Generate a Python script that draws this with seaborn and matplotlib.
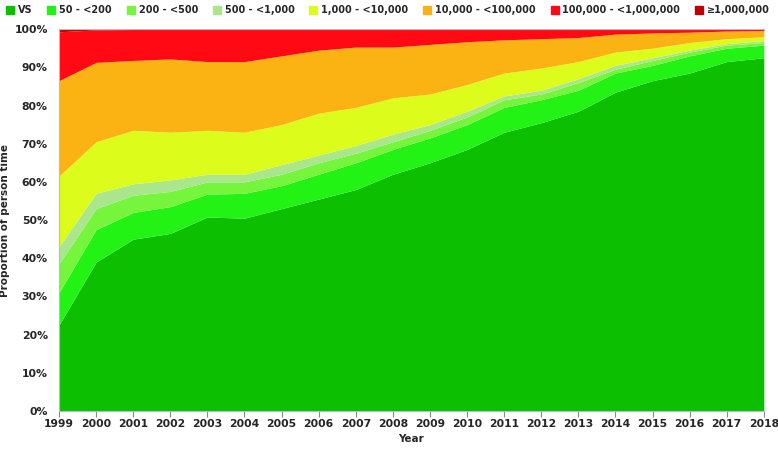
import matplotlib
matplotlib.use("Agg")
import matplotlib.pyplot as plt
from matplotlib.lines import Line2D
from matplotlib.ticker import PercentFormatter
import seaborn as sns

years = list(range(1999, 2019))

labels = ["VS", "50 - <200", "200 - <500", "500 - <1,000", "1,000 - <10,000",
          "10,000 - <100,000", "100,000 - <1,000,000", "\u22651,000,000"]

# share of person time (%) per band
vs = [22.5, 39, 45, 46.5, 50.8, 50.5, 53, 55.5, 58, 62, 65, 68.5, 73, 75.5, 78.5, 83.5, 86.5, 88.5, 91.5, 92.5]
b50 = [8.5, 8.5, 7, 7, 6, 6.5, 6, 6.5, 7, 6.5, 6.5, 6.5, 6.5, 6, 5.5, 5, 4, 4.5, 3.5, 3.3]
b200 = [7.5, 5.5, 4.5, 4, 3.2, 3, 3, 3, 2.5, 2, 2, 2, 2, 1.5, 2, 1, 1.3, 1, 0.8, 0.7]
b500 = [4.5, 4, 3, 3, 2, 2, 2.5, 2, 2, 2, 1.5, 1.5, 1, 1, 1, 1, 0.7, 0.5, 0.4, 0.5]
b1k = [18.5, 13.5, 14, 12.5, 11.5, 11, 10.5, 11, 10, 9.5, 8, 7, 6, 5.8, 4.5, 3.5, 2.5, 2, 1.3, 1]
b10k = [25, 20.8, 18.3, 19.2, 18, 18.5, 18, 16.5, 15.8, 13.3, 13, 11.2, 8.7, 7.7, 6.3, 4.7, 4, 2.7, 2, 1.6]
b100k = [12.8, 8.5, 8.1, 7.7, 8.4, 8.4, 6.9, 5.4, 4.6, 4.6, 3.9, 3.2, 2.7, 2.4, 2.1, 1.2, 0.9, 0.7, 0.4, 0.3]
b1m = [0.7, 0.2, 0.1, 0.1, 0.1, 0.1, 0.1, 0.1, 0.1, 0.1, 0.1, 0.1, 0.1, 0.1, 0.1, 0.1, 0.1, 0.1, 0.1, 0.1]

colors = ["#0cbf00", "#22f214", "#75f53b", "#a9e68c", "#dcfc1c",
          "#fbb313", "#ff0a14", "#c00000"]

sns.set_theme(style="white")
plt.rcParams['font.family'] = ['DejaVu Sans']

fig = plt.figure(figsize=(7.78, 4.53), dpi=100)
ax = fig.add_axes([0.0758, 0.0927, 0.906, 0.843])

ax.stackplot(years, vs, b50, b200, b500, b1k, b10k, b100k, b1m,
             colors=colors, labels=labels, linewidth=0)

ax.set_xlim(1999, 2018)
ax.set_ylim(0, 100)
ax.set_xticks(years)
ax.set_yticks(range(0, 101, 10))
ax.yaxis.set_major_formatter(PercentFormatter(decimals=0))
ax.tick_params(axis="both", labelsize=7.8, pad=2)
ax.tick_params(axis="x", bottom=True, length=4, color="#888888", width=0.8)
for lab in ax.get_xticklabels() + ax.get_yticklabels():
    lab.set_fontweight("bold")

for s in ["left", "bottom", "top"]:
    ax.spines[s].set_color("#bbbbbb")
    ax.spines[s].set_linewidth(0.8)
ax.spines["right"].set_visible(False)

ax.set_xlabel("Year", fontsize=7.5, fontweight="bold", labelpad=3)
ax.set_ylabel("Proportion of person time", fontsize=7.5, fontweight="bold", labelpad=3)

handles = [Line2D([], [], marker="s", linestyle="", markersize=5.5,
                  markerfacecolor=c, markeredgecolor=c) for c in colors]
leg = fig.legend(handles, labels, loc="upper left", bbox_to_anchor=(-0.004, 1.008),
                 ncol=8, frameon=False, handletextpad=0.35, columnspacing=1.5,
                 handlelength=0.9, prop={"size": 7, "weight": "bold"})

fig.savefig("out.png", dpi=100)
